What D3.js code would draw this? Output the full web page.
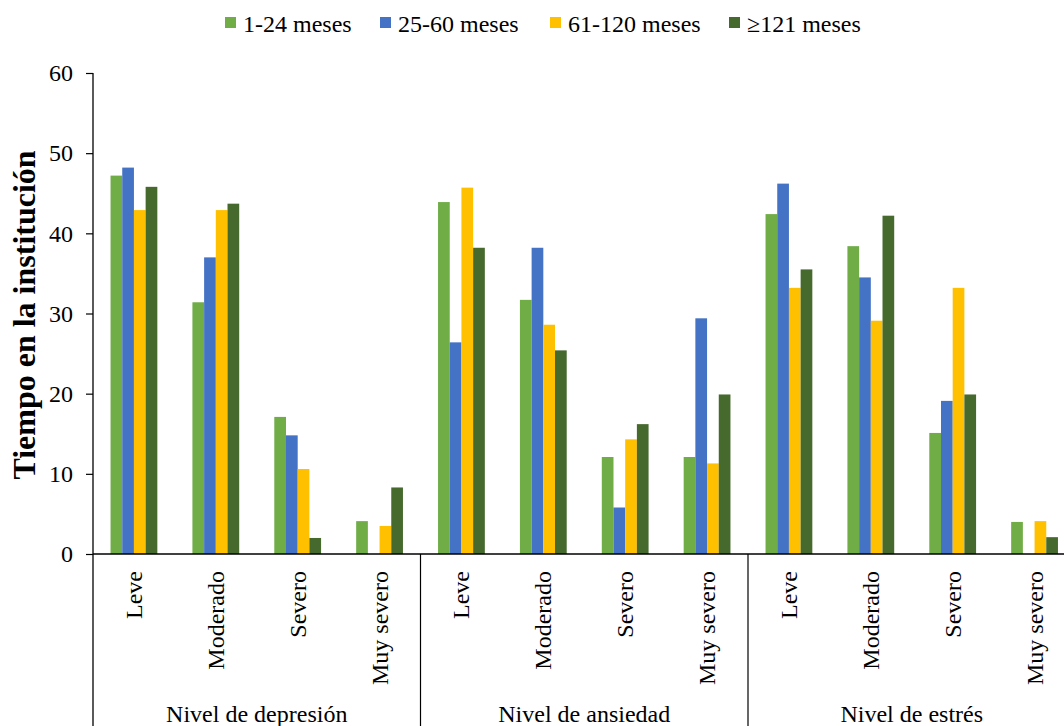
<!DOCTYPE html>
<html><head><meta charset="utf-8">
<script src="https://cdn.jsdelivr.net/npm/d3@7"></script>
<style>
body{margin:0;background:#fff;}
svg{display:block;}
svg text{font-family:"Liberation Serif","Times New Roman",serif;}
</style></head>
<body><svg id="c" width="1064" height="726"></svg>
<script>
const groups = ["Nivel de depresión","Nivel de ansiedad","Nivel de estrés"];
const levels = ["Leve","Moderado","Severo","Muy severo"];
const seriesNames = ["1-24 meses","25-60 meses","61-120 meses","≥121 meses"];
const seriesColors = ["#70AD47","#4472C4","#FFC000","#466A2E"];
const s1 = [47.2,31.4,17.1,4.1, 43.9,31.7,12.1,12.1, 42.4,38.4,15.1,4.0];
const s2 = [48.2,37.0,14.8,0,   26.4,38.2,5.8,29.4,  46.2,34.5,19.1,0];
const s3 = [42.9,42.9,10.6,3.5, 45.7,28.6,14.3,11.3, 33.2,29.1,33.2,4.1];
const s4 = [45.8,43.7,2.0,8.3,  38.2,25.4,16.2,19.9, 35.5,42.2,19.9,2.1];
const yTicks = [0,10,20,30,40,50,60];
const yTitle = "Tiempo en la institución";

(function(){
const FONT = "Liberation Serif";
const seriesVals = [s1,s2,s3,s4];
const cats = [];
groups.forEach((g,gi)=>levels.forEach((l,li)=>cats.push({key:g+"|"+l,group:g,level:l,idx:gi*4+li})));

const svg = d3.select("#c");
const mLeft = 93, mRight = 1075.5, mTop = 73, mBottom = 554;
const x0 = d3.scaleBand().domain(cats.map(c=>c.key)).range([mLeft,mRight]).padding(0);
const x1 = d3.scaleBand().domain(seriesNames).range([0,x0.bandwidth()]).paddingInner(0).paddingOuter(1.5);
const y = d3.scaleLinear().domain([0,60]).range([mBottom,mTop]);

const g = svg.append("g");
cats.forEach(c=>{
  seriesNames.forEach((s,si)=>{
    const v = seriesVals[si][c.idx];
    if(v<=0) return;
    g.append("rect")
      .attr("x",x0(c.key)+x1(s))
      .attr("y",y(v))
      .attr("width",x1.bandwidth())
      .attr("height",y(0)-y(v))
      .attr("fill",seriesColors[si]);
  });
});

const yAxis = d3.axisLeft(y).tickValues(yTicks).tickSize(7).tickSizeOuter(0);
const ya = svg.append("g").attr("transform",`translate(${mLeft},0)`).call(yAxis);
ya.select(".domain").remove();
ya.selectAll("line").attr("stroke","#000").attr("stroke-width",1.2);
ya.selectAll("text").attr("font-size",24).attr("font-family",FONT).attr("fill","#000").attr("x",-20);
svg.append("line").attr("x1",mLeft).attr("x2",mLeft).attr("y1",mTop).attr("y2",726).attr("stroke","#000").attr("stroke-width",1.3);

svg.append("line").attr("x1",mLeft).attr("x2",1064).attr("y1",mBottom).attr("y2",mBottom).attr("stroke","#000").attr("stroke-width",1.3);

groups.forEach((gname,gi)=>{
  if(gi>0){
    const xd = x0(gname+"|"+levels[0]);
    svg.append("line").attr("x1",xd).attr("x2",xd).attr("y1",mBottom).attr("y2",726).attr("stroke","#000").attr("stroke-width",1.2);
  }
  const xs = x0(gname+"|"+levels[0]);
  const xe = x0(gname+"|"+levels[3])+x0.bandwidth();
  svg.append("text").attr("x",(xs+xe)/2).attr("y",722).attr("text-anchor","middle")
    .attr("font-family",FONT).attr("font-size",24).attr("fill","#000").text(gname);
});

cats.forEach(c=>{
  const cx = x0(c.key)+x0.bandwidth()/2;
  svg.append("text").attr("transform",`translate(${cx+8},571) rotate(-90)`)
    .attr("text-anchor","end").attr("font-family",FONT).attr("font-size",24).attr("fill","#000").text(c.level);
});

svg.append("text").attr("transform","translate(35,315) rotate(-90)")
  .attr("text-anchor","middle").attr("font-family",FONT).attr("font-size",32).attr("font-weight","bold").attr("fill","#000").text(yTitle);

const legX = [225,380,550,729];
seriesNames.forEach((s,i)=>{
  svg.append("rect").attr("x",legX[i]).attr("y",17).attr("width",11).attr("height",11).attr("fill",seriesColors[i]);
  svg.append("text").attr("x",legX[i]+18).attr("y",32).attr("font-family",FONT).attr("font-size",24).attr("fill","#000").text(s);
});
})();
</script></body></html>
